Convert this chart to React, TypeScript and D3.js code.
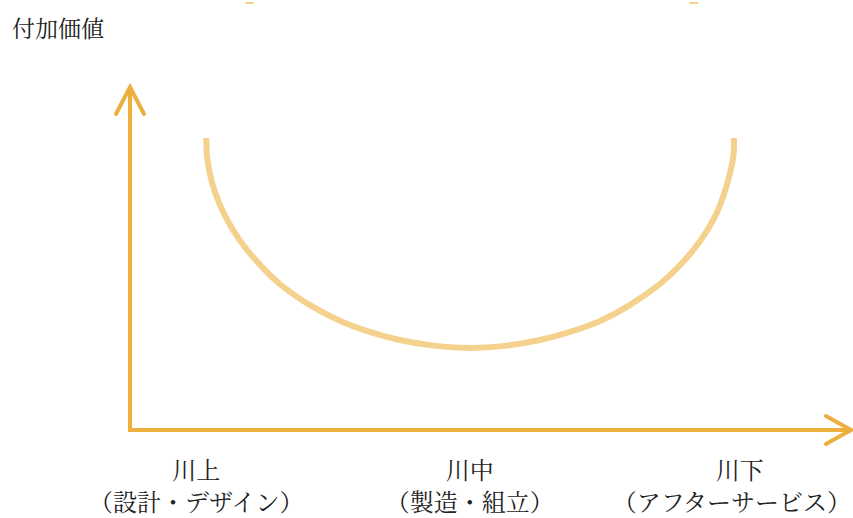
import React from "react";
import * as d3 from "d3";

// Value-chain stages (x positions in chart units 0..100)
const stages = ["川上", "川中", "川下"];
const stageDetails = ["（設計・デザイン）", "（製造・組立）", "（アフターサービス）"];
const stagePos = [9.2, 47.2, 84.7];
const detailPos = [9.2, 47.2, 83.6];

// Smile curve (stage position, added value)
const curveX = [10.6, 10.7, 11.1, 11.8, 13.2, 15.3, 18.1, 20.8, 25, 29.2, 33.3, 37.5, 42.4, 47.2,
  52.1, 56.9, 61.1, 65.3, 69.4, 73.6, 76.4, 79.2, 81.3, 82.6, 83.3, 83.8, 83.9];
const curveY = [85.4, 80.1, 74.9, 69.6, 62.6, 55.3, 48.2, 42.7, 36.5, 31.9, 28.7, 26.3, 24.6, 24.0,
  24.6, 26.3, 28.7, 31.9, 36.5, 42.7, 48.2, 55.3, 62.6, 69.6, 74.9, 80.1, 85.4];

const yLabel = "付加価値";

export default function App() {
  const W = 853, H = 518;
  const x = d3.scaleLinear().domain([0, 100]).range([130, 850]);
  const y = d3.scaleLinear().domain([0, 100]).range([430, 88]);
  const pts: [number, number][] = curveX.map((v, i) => [v, curveY[i]]);
  const line = d3.line<[number, number]>()
    .x(d => x(d[0]))
    .y(d => y(d[1]))
    .curve(d3.curveCatmullRom.alpha(0.5));

  const axisColor = "#EDB03F";
  const curveColor = "#F4D18C";
  const x0 = x(0), y0 = y(0), xEnd = x(100), yEnd = y(100);
  const font = "'Noto Serif CJK JP', 'Noto Sans CJK JP', serif";

  return (
    <svg width={W} height={H} style={{ position: "absolute", left: 0, top: 0, background: "#fff" }}>
      {/* small marks at top */}
      <line x1={x(16)} x2={x(17.2)} y1={3} y2={3} stroke={curveColor} strokeWidth={2} />
      <line x1={x(77.7)} x2={x(78.9)} y1={3} y2={3} stroke={curveColor} strokeWidth={2} />

      <text x={12} y={37} fontSize={23} fontFamily={font} fill="#222">{yLabel}</text>

      {/* curve */}
      <path d={line(pts) || ""} fill="none" stroke={curveColor} strokeWidth={6} />

      {/* axes */}
      <path d={`M${x0},${yEnd + 2} L${x0},${y0} L${xEnd - 1},${y0}`} fill="none" stroke={axisColor}
        strokeWidth={4} strokeLinejoin="miter" strokeLinecap="square" />
      <path d={`M${x0 - 14},${yEnd + 26} L${x0},${yEnd - 1} L${x0 + 14},${yEnd + 26}`} fill="none"
        stroke={axisColor} strokeWidth={4} strokeLinecap="round" strokeLinejoin="miter" />
      <path d={`M${xEnd - 24},${y0 - 14} L${xEnd + 1},${y0} L${xEnd - 24},${y0 + 14}`} fill="none"
        stroke={axisColor} strokeWidth={4} strokeLinecap="round" strokeLinejoin="miter" />

      {/* stage labels */}
      {stages.map((s, i) => (
        <g key={s}>
          <text x={x(stagePos[i])} y={479} textAnchor="middle" fontSize={24} fontFamily={font} fill="#222">{s}</text>
          <text x={x(detailPos[i])} y={511} textAnchor="middle" fontSize={24} fontFamily={font} fill="#222">{stageDetails[i]}</text>
        </g>
      ))}
    </svg>
  );
}
